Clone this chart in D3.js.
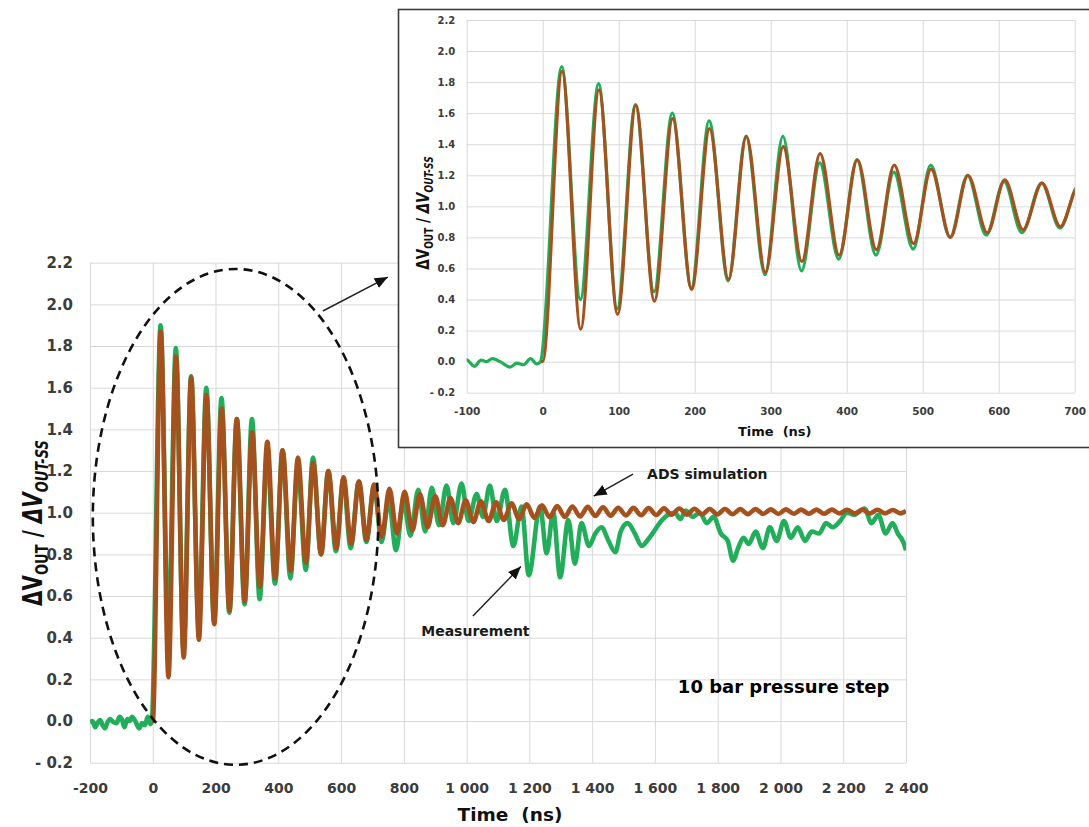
<!DOCTYPE html>
<html>
<head>
<meta charset="utf-8">
<script src="https://cdn.jsdelivr.net/npm/d3@7"></script>
<style>
    body { margin: 0; background: #fff; }
    svg text { font-family: "DejaVu Sans", sans-serif; font-weight: 700; }
</style>
</head>
<body>
<div id="wrapper"></div>
<script>
// ADS simulation, [time (ns), dVout / dVout-ss] at the turning points of the ringing
const simulationPoints = [
    [-2, 0.00], [0, 0.00],
    [25.5, 1.87], [50, 0.21], [74, 1.75], [98.5, 0.305], [122.5, 1.65], [147, 0.39],
    [171, 1.565], [196, 0.465], [219.5, 1.50], [244.5, 0.53], [268, 1.45], [293, 0.575],
    [316.5, 1.385], [341, 0.645], [365, 1.34], [390, 0.685], [414, 1.30], [439, 0.72],
    [462.5, 1.265], [488, 0.76], [511, 1.24], [536.5, 0.80], [559.5, 1.20], [585, 0.83],
    [608, 1.17], [632, 0.85], [657, 1.15], [681, 0.87], [705.5, 1.135], [729.5, 0.885],
    [754, 1.115], [778, 0.90], [802.5, 1.10], [827, 0.915], [851, 1.09], [875.5, 0.93],
    [900, 1.08], [924, 0.94], [948.5, 1.07], [973, 0.95], [997, 1.06], [1021.5, 0.955],
    [1045.5, 1.055], [1070, 0.96], [1094, 1.05], [1118.5, 0.965], [1143, 1.045], [1167, 0.97],
    [1191.5, 1.04], [1216, 0.975], [1240, 1.035], [1264.5, 0.978], [1288.5, 1.032], [1313, 0.98],
    [1337, 1.03], [1361.5, 0.982], [1386, 1.028], [1410, 0.984], [1434.5, 1.026], [1459, 0.986],
    [1483, 1.024], [1507.5, 0.987], [1531.5, 1.023], [1556, 0.988], [1580, 1.022], [1604.5, 0.989],
    [1629, 1.021], [1653, 0.99], [1677.5, 1.02], [1702, 0.991], [1726, 1.019], [1750.5, 0.992],
    [1774.5, 1.018], [1799, 0.992], [1823, 1.018], [1847.5, 0.993], [1872, 1.017], [1896, 0.993],
    [1920.5, 1.017], [1945, 0.994], [1969, 1.016], [1993.5, 0.994], [2017.5, 1.016], [2042, 0.995],
    [2066, 1.015], [2090.5, 0.995], [2115, 1.015], [2139, 0.995], [2163.5, 1.015], [2188, 0.996],
    [2212, 1.014], [2236.5, 0.996], [2260.5, 1.014], [2285, 0.996], [2309, 1.014], [2333.5, 0.997],
    [2358, 1.013], [2382, 0.997], [2400, 1.008]
];

// Measurement, [time (ns), dVout / dVout-ss]
const measurementPoints = [
    [-200, -0.01], [-192, 0.00], [-184, -0.03], [-176, -0.01], [-168, 0.005], [-160, -0.02],
    [-152, -0.035], [-144, -0.005], [-136, 0.01], [-126, -0.005], [-115, -0.01], [-106, 0.02],
    [-99, 0.01], [-90, -0.03], [-81, 0.01], [-74, 0.00], [-66, 0.02], [-56, 0.00],
    [-43, -0.035], [-34, -0.01], [-25, -0.02], [-16, 0.02], [-8, -0.015], [-3, 0.00],
    [25, 1.90], [49.5, 0.40], [73.5, 1.79], [98, 0.34], [122, 1.655], [146.5, 0.45],
    [170.5, 1.60], [195.5, 0.475], [219, 1.55], [244, 0.52], [267.5, 1.45], [292.5, 0.56],
    [316, 1.45], [340.5, 0.585], [364.5, 1.28], [389.5, 0.66], [413.5, 1.30], [438.5, 0.685],
    [462, 1.22], [487.5, 0.725], [510.5, 1.265], [536, 0.80], [559, 1.20], [583.5, 0.815],
    [607, 1.16], [630.5, 0.83], [656.5, 1.15], [680.5, 0.86],
    [705, 1.13], [729, 0.86], [752, 1.06], [775, 0.82], [799, 1.05], [821, 0.89],
    [846, 1.11], [868, 0.91], [889, 1.12], [912, 0.94], [936, 1.13], [958, 0.95],
    [984, 1.14], [1006, 0.96], [1032, 1.09], [1052, 0.98], [1074, 1.13], [1096, 0.96],
    [1122, 1.11], [1149, 0.84], [1175, 1.03], [1198, 0.70], [1234, 1.03], [1255, 0.805],
    [1276, 1.00], [1298, 0.69], [1324, 0.965], [1345, 0.755], [1366, 0.95], [1390, 0.84],
    [1410, 0.90], [1430, 0.93], [1452, 0.865], [1474, 0.81], [1491, 0.91], [1513, 0.95],
    [1536, 0.90], [1558, 0.84], [1575, 0.865], [1597, 0.91], [1620, 0.96], [1642, 0.99],
    [1664, 1.00], [1681, 0.97], [1698, 1.01], [1720, 0.98], [1743, 1.00], [1765, 0.95],
    [1787, 0.98], [1810, 0.90], [1832, 0.865], [1849, 0.77], [1865, 0.83], [1882, 0.88],
    [1899, 0.85], [1921, 0.91], [1944, 0.83], [1966, 0.93], [1988, 0.865], [2011, 0.96],
    [2033, 0.88], [2055, 0.93], [2078, 0.865], [2100, 0.91], [2123, 0.90], [2145, 0.95],
    [2167, 0.93], [2190, 0.96], [2212, 1.00], [2234, 0.99], [2268, 1.02], [2290, 0.95],
    [2312, 0.99], [2335, 0.90], [2357, 0.95], [2374, 0.90], [2391, 0.86], [2400, 0.82]
];

const mainTimeTicks = [-200, 0, 200, 400, 600, 800, 1000, 1200, 1400, 1600, 1800, 2000, 2200, 2400];
const insetTimeTicks = [-100, 0, 100, 200, 300, 400, 500, 600, 700];
const ratioTicks = [-0.2, 0, 0.2, 0.4, 0.6, 0.8, 1.0, 1.2, 1.4, 1.6, 1.8, 2.0, 2.2];

// annotations, in main chart units (ns, ratio)
const zoomEllipse = { time: 264, ratio: 0.98, timeRadius: 455, ratioRadius: 1.19 };
const arrowSegments = [
    { from: [542, 1.968], to: [749, 2.131] },
    { from: [1530, 1.185], to: [1405, 1.08] },
    { from: [1020, 0.504], to: [1173, 0.742] },
];
const notes = [
    { text: "ADS simulation", time: 1575, ratio: 1.185 },
    { text: "Measurement", time: 1028, ratio: 0.432 },
    { text: "10 bar pressure step", time: 2010, ratio: 0.168 },
];

function draw() {

    // 1. Dimensions
    let dimensions = {
        width: 1089,
        height: 827,
        main: { left: 90, top: 262.7, width: 816, height: 500 },
        inset: { left: 466.7, top: 20, width: 608, height: 372.7 },
    };

    const brown = "#a4511d";
    const green = "#22ad5b";

    // 2. Canvas
    const wrapper = d3.select("#wrapper")
        .append("svg")
        .attr("width", dimensions.width)
        .attr("height", dimensions.height);
    const defs = wrapper.append("defs");
    defs.append("marker")
        .attr("id", "arrow-head")
        .attr("markerUnits", "userSpaceOnUse")
        .attr("viewBox", "0 0 12 10")
        .attr("refX", 12)
        .attr("refY", 5)
        .attr("markerWidth", 13)
        .attr("markerHeight", 11)
        .attr("orient", "auto")
        .append("path")
        .attr("d", "M0,0 L12,5 L0,10 Z")
        .attr("fill", "#111");

    const spaceLocale = d3.formatLocale({
        decimal: ".", thousands: " ", grouping: [3], currency: ["", ""], minus: "-"
    });
    const timeFormat = spaceLocale.format(",");
    const ratioFormat = d => d < -1e-9
        ? `- ${d3.format(".1f")(-d)}`
        : d3.format(".1f")(Math.abs(d));

    // shared panel drawer: grid + tick labels + both series
    function drawPanel(box, opts) {
        const bounds = wrapper.append("g")
            .attr("transform", `translate(${box.left},${box.top})`);
        const xScale = d3.scaleLinear().domain(opts.timeDomain).range([0, box.width]);
        const yScale = d3.scaleLinear().domain([-0.2, 2.2]).range([box.height, 0]);

        const xAxis = bounds.append("g")
            .attr("transform", `translate(0,${box.height})`)
            .call(d3.axisBottom(xScale)
                .tickValues(opts.timeTicks)
                .tickSize(-box.height)
                .tickPadding(opts.xPadding)
                .tickFormat(timeFormat));
        const yAxis = bounds.append("g")
            .call(d3.axisLeft(yScale)
                .tickValues(ratioTicks)
                .tickSize(-box.width)
                .tickPadding(opts.yPadding)
                .tickFormat(ratioFormat));
        [xAxis, yAxis].forEach(axis => {
            axis.attr("font-family", null);
            axis.select(".domain").remove();
            axis.selectAll(".tick line").attr("stroke", "#d9d9d9").attr("stroke-width", 1);
            axis.selectAll(".tick text")
                .attr("fill", "#3c3c3c")
                .style("font-size", `${opts.tickSize}px`);
        });
        yAxis.selectAll(".tick text").style("font-size", `${opts.yTickSize}px`);

        defs.append("clipPath")
            .attr("id", opts.clipId)
            .append("rect")
            .attr("x", 0).attr("y", -20)
            .attr("width", box.width).attr("height", box.height + 40);

        const lineGenerator = d3.line()
            .x(d => xScale(d[0]))
            .y(d => yScale(d[1]))
            .curve(d3.curveMonotoneX);
        const series = bounds.append("g").attr("clip-path", `url(#${opts.clipId})`);
        series.append("path")
            .attr("d", lineGenerator(measurementPoints))
            .attr("fill", "none")
            .attr("stroke", green)
            .attr("stroke-width", opts.lineWidth)
            .attr("stroke-linejoin", "round");
        series.append("path")
            .attr("d", lineGenerator(simulationPoints))
            .attr("fill", "none")
            .attr("stroke", brown)
            .attr("stroke-width", opts.lineWidth)
            .attr("stroke-linejoin", "round");

        bounds.append("text")
            .attr("x", box.width / 2 + opts.titleShift)
            .attr("y", box.height + opts.titleOffset)
            .attr("text-anchor", "middle")
            .attr("dominant-baseline", "central")
            .attr("fill", "#111")
            .style("font-size", `${opts.titleSize}px`)
            .style("white-space", "pre")
            .text("Time  (ns)");

        return { bounds, xScale, yScale };
    }

    function ratioLabel(x, y, size, stretch) {
        const sub = Math.round(size * 0.66);
        const label = wrapper.append("text")
            .attr("transform", `translate(${x},${y}) scale(${stretch},1) rotate(-90)`)
            .attr("text-anchor", "middle")
            .attr("fill", "#111")
            .style("font-size", `${size}px`);
        label.append("tspan").text("ΔV");
        label.append("tspan").style("font-size", `${sub}px`).attr("dy", size * 0.22).text("OUT");
        label.append("tspan").attr("dy", -size * 0.22).style("white-space", "pre").text(" / ");
        label.append("tspan").style("font-style", "italic").text("ΔV");
        label.append("tspan").style("font-style", "italic").style("font-size", `${sub}px`)
            .attr("dy", size * 0.22).text("OUT-SS");
    }

    // 3. Main chart
    const main = drawPanel(dimensions.main, {
        timeDomain: [-200, 2400], timeTicks: mainTimeTicks,
        xPadding: 20, yPadding: 17, tickSize: 14, yTickSize: 15,
        lineWidth: 4.6, clipId: "main-clip",
        titleSize: 18.5, titleOffset: 52, titleShift: 12,
    });
    ratioLabel(42, 523, 20, 1.35);

    // zoom ellipse and call-outs
    const mx = main.xScale, my = main.yScale;
    main.bounds.append("ellipse")
        .attr("cx", mx(zoomEllipse.time))
        .attr("cy", my(zoomEllipse.ratio))
        .attr("rx", mx(zoomEllipse.time + zoomEllipse.timeRadius) - mx(zoomEllipse.time))
        .attr("ry", my(zoomEllipse.ratio - zoomEllipse.ratioRadius) - my(zoomEllipse.ratio))
        .attr("fill", "none")
        .attr("stroke", "#111")
        .attr("stroke-width", 2.6)
        .attr("stroke-dasharray", "9 6");
    main.bounds.selectAll(".call-out")
        .data(arrowSegments)
        .enter()
        .append("line")
        .attr("class", "call-out")
        .attr("x1", d => mx(d.from[0]))
        .attr("y1", d => my(d.from[1]))
        .attr("x2", d => mx(d.to[0]))
        .attr("y2", d => my(d.to[1]))
        .attr("stroke", "#222")
        .attr("stroke-width", 1.5)
        .attr("marker-end", "url(#arrow-head)");
    main.bounds.selectAll(".note")
        .data(notes)
        .enter()
        .append("text")
        .attr("class", "note")
        .attr("x", d => mx(d.time))
        .attr("y", d => my(d.ratio))
        .attr("text-anchor", (d, i) => i == 0 ? "start" : "middle")
        .attr("dominant-baseline", "central")
        .attr("fill", (d, i) => i == 2 ? "#000" : "#1a1a1a")
        .style("font-size", (d, i) => i == 2 ? "18px" : "14px")
        .text(d => d.text);

    // 4. Inset (zoom on the first 700 ns)
    wrapper.append("rect")
        .attr("x", 398.5)
        .attr("y", 9.5)
        .attr("width", 720)
        .attr("height", 438)
        .attr("fill", "#fff")
        .attr("stroke", "#3a3a3a")
        .attr("stroke-width", 1.6);
    drawPanel(dimensions.inset, {
        timeDomain: [-100, 700], timeTicks: insetTimeTicks,
        xPadding: 15, yPadding: 11.5, tickSize: 10.5, yTickSize: 10,
        lineWidth: 3.2, clipId: "inset-clip",
        titleSize: 13, titleOffset: 39, titleShift: 4,
    });
    ratioLabel(429, 213, 13.5, 1.35);
}

draw();
</script>
</body>
</html>
